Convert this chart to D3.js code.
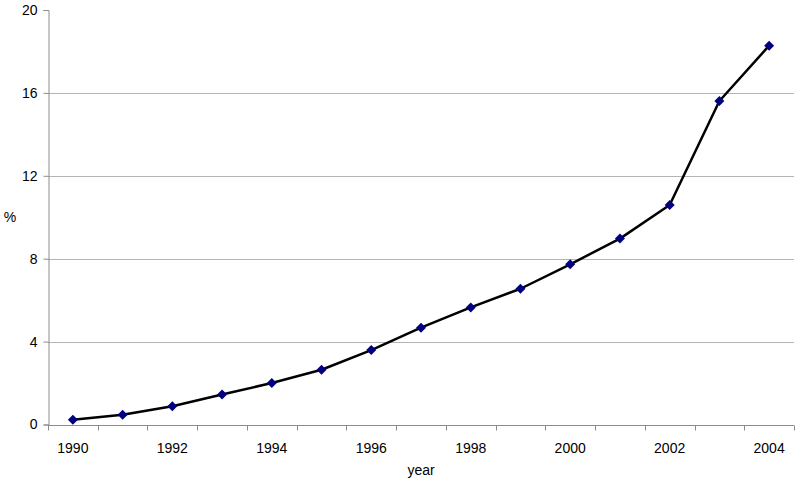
<!DOCTYPE html>
<html>
<head>
<meta charset="utf-8">
<script src="https://cdn.jsdelivr.net/npm/d3@7"></script>
<style>
  body { margin: 0; background: #fff; }
  text { font-family: "Liberation Sans", Arial, sans-serif; }
</style>
</head>
<body>
<div id="chart"></div>
<script>
let years = [1990, 1991, 1992, 1993, 1994, 1995, 1996, 1997, 1998, 1999, 2000, 2001, 2002, 2003, 2004];
let values = [0.23, 0.47, 0.88, 1.45, 2.0, 2.64, 3.59, 4.67, 5.65, 6.55, 7.73, 8.97, 10.59, 15.61, 18.28];
let yTicks = [0, 4, 8, 12, 16, 20];
let xLabels = [1990, 1992, 1994, 1996, 1998, 2000, 2002, 2004];

let width = 800;
let height = 482;
let margin = {left: 48, right: 6, top: 10, bottom: 57.5};

let svg = d3.select("#chart")
	.append("svg")
	.attr("width", width)
	.attr("height", height);

let x = d3.scaleBand()
	.domain(years)
	.range([margin.left, width - margin.right]);

let y = d3.scaleLinear()
	.domain([0, 20])
	.range([height - margin.bottom, margin.top]);

// gridlines
svg.append("g")
	.selectAll("line")
	.data(yTicks.filter(d => d > 0 && d < 20))
	.enter().append("line")
	.attr("x1", margin.left)
	.attr("x2", width - margin.right)
	.attr("y1", d => Math.round(y(d)) + 0.5)
	.attr("y2", d => Math.round(y(d)) + 0.5)
	.attr("stroke", "#b4b4b4")
	.attr("stroke-width", 1);

// y axis
let yAxis = svg.append("g")
	.attr("transform", "translate(" + (margin.left + 0.5) + ",0)")
	.call(d3.axisLeft(y).tickValues(yTicks).tickSize(5).tickPadding(6));
yAxis.select(".domain").attr("stroke", "#8c8c8c");
yAxis.selectAll(".tick line").attr("stroke", "#8c8c8c");
yAxis.selectAll(".tick text")
	.attr("fill", "#000")
	.style("font-size", "14px");

// x axis with ticks at category boundaries
let xAxis = svg.append("g")
	.attr("transform", "translate(0," + (Math.round(y(0)) + 0.5) + ")");
xAxis.append("line")
	.attr("x1", margin.left)
	.attr("x2", width - margin.right)
	.attr("stroke", "#8c8c8c");
xAxis.selectAll(".xtick")
	.data(years.concat(["end"]))
	.enter().append("line")
	.attr("class", "xtick")
	.attr("x1", d => Math.round(d === "end" ? x.range()[1] : x(d)) + 0.5)
	.attr("x2", d => Math.round(d === "end" ? x.range()[1] : x(d)) + 0.5)
	.attr("y1", 0)
	.attr("y2", 5)
	.attr("stroke", "#8c8c8c");
xAxis.selectAll(".xlabel")
	.data(xLabels)
	.enter().append("text")
	.attr("class", "xlabel")
	.attr("x", d => x(d) + x.bandwidth() / 2)
	.attr("y", 27)
	.attr("text-anchor", "middle")
	.style("font-size", "14px")
	.text(d => d);

// axis titles
svg.append("text")
	.attr("x", (margin.left + width - margin.right) / 2)
	.attr("y", 475)
	.attr("text-anchor", "middle")
	.style("font-size", "14px")
	.text("year");

svg.append("text")
	.attr("x", 10)
	.attr("y", 222)
	.attr("text-anchor", "middle")
	.style("font-size", "14px")
	.text("%");

// line
let line = d3.line()
	.x((d, i) => x(years[i]) + x.bandwidth() / 2)
	.y(d => y(d));

svg.append("path")
	.datum(values)
	.attr("d", line)
	.attr("fill", "none")
	.attr("stroke", "#000")
	.attr("stroke-width", 2.5)
	.attr("stroke-linejoin", "round");

// diamond markers
svg.append("g")
	.selectAll("path")
	.data(values)
	.enter().append("path")
	.attr("transform", (d, i) => "translate(" + (x(years[i]) + x.bandwidth() / 2) + "," + y(d) + ")")
	.attr("d", "M0,-5L5,0L0,5L-5,0Z")
	.attr("fill", "#000080");
</script>
</body>
</html>
